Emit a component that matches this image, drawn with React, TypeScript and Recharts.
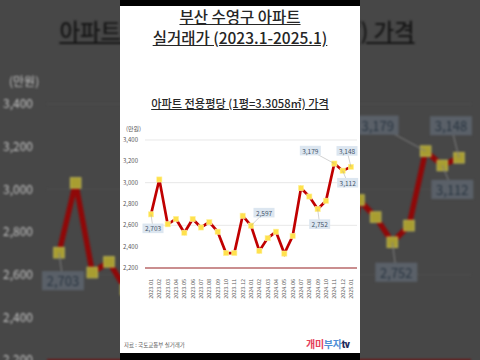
import React from "react";
import { LineChart, Line, XAxis, YAxis, CartesianGrid, LabelList } from "recharts";

const months = [
  "2023.01", "2023.02", "2023.03", "2023.04", "2023.05", "2023.06", "2023.07",
  "2023.08", "2023.09", "2023.10", "2023.11", "2023.12", "2024.01", "2024.02",
  "2024.03", "2024.04", "2024.05", "2024.06", "2024.07", "2024.08", "2024.09",
  "2024.10", "2024.11", "2024.12", "2025.01",
];
const prices = [
  2703, 3030, 2610, 2660, 2530, 2660, 2580, 2630, 2540, 2340, 2340, 2690, 2597,
  2360, 2480, 2540, 2335, 2500, 2950, 2870, 2752, 2830, 3179, 3112, 3148,
];
const yTicks = [2200, 2400, 2600, 2800, 3000, 3200, 3400];

const data = months.map((m, i) => ({ month: m, value: prices[i] }));

// which points get a callout, and where the box sits relative to the point
const callouts: Record<number, [number, number]> = {
  0: [2, 14],
  12: [13, -13],
  20: [2, 15],
  22: [-24, -13],
  23: [5, 12],
  24: [-4, -16],
};

const FONT = '"Noto Sans CJK KR", "Noto Sans", sans-serif';

const light = {
  bg: "#ffffff",
  title: "#262626",
  axis: "#595959",
  grid: "#d9d9d9",
  axisLine: "#a0282b",
  line: "#c00000",
  dot: "#ffe14d",
  dotEdge: "#fff3a0",
  box: "#dce6f0",
  boxText: "#44546a",
  leader: "#a6a6a6",
  foot: "#595959",
  logo: ["#e5405a", "#4f8fd6", "#1f2d5c"],
};
const dark = {
  bg: "transparent",
  title: "#161616",
  axis: "#c2c2c2",
  grid: "#4e4e4e",
  axisLine: "#6c1414",
  line: "#900808",
  dot: "#a89d30",
  dotEdge: "#b5ad50",
  box: "#5a6068",
  boxText: "#283440",
  leader: "#808080",
  foot: "#888888",
  logo: ["#7a2a33", "#34506e", "#1a1f2c"],
};

function Card({ theme }: { theme: typeof light }) {
  const t = theme;

  const renderCallout = (props: any) => {
    const { x, y, value, index } = props;
    const off = callouts[index];
    if (!off) return null;
    const bx = x + off[0];
    const by = y + off[1];
    return (
      <g key={`c-${index}`}>
        <line x1={x} y1={y} x2={bx} y2={by} stroke={t.leader} strokeWidth={0.5} />
        <rect x={bx - 10.5} y={by - 4.8} width={21} height={9.6} fill={t.box} />
        <text
          x={bx}
          y={by}
          textAnchor="middle"
          dominantBaseline="central"
          fontSize={6.5}
          fill={t.boxText}
          fontFamily={FONT}
        >
          {Number(value).toLocaleString("en-US")}
        </text>
      </g>
    );
  };

  const SquareDot = (props: any) => {
    const { cx, cy, index } = props;
    return (
      <rect
        key={`d-${index}`}
        x={cx - 2.6}
        y={cy - 2.6}
        width={5.2}
        height={5.2}
        fill={t.dot}
        stroke={t.dotEdge}
        strokeWidth={0.6}
      />
    );
  };

  const MonthTick = (props: any) => {
    const { x, y, payload } = props;
    return (
      <g transform={`translate(${x},${y + 3})`}>
        <text
          transform="rotate(-90)"
          textAnchor="end"
          dominantBaseline="central"
          fontSize={5.5}
          fill={t.axis}
          fontFamily={FONT}
        >
          {payload.value}
        </text>
      </g>
    );
  };

  return (
    <div
      style={{
        position: "absolute",
        left: 0,
        top: 0,
        width: 240,
        height: 347,
        background: t.bg,
        fontFamily: FONT,
      }}
    >
      <div
        style={{
          position: "absolute",
          top: 0,
          left: 0,
          width: 240,
          textAlign: "center",
          fontSize: 15.5,
          lineHeight: "21px",
          fontWeight: 500,
          color: t.title,
          textDecoration: "underline",
        }}
      >
        부산 수영구 아파트
      </div>
      <div
        style={{
          position: "absolute",
          top: 21,
          left: 0,
          width: 240,
          textAlign: "center",
          fontSize: 15.5,
          lineHeight: "21px",
          fontWeight: 500,
          color: t.title,
          textDecoration: "underline",
        }}
      >
        실거래가 (2023.1-2025.1)
      </div>
      <div
        style={{
          position: "absolute",
          top: 90,
          left: 0,
          width: 240,
          textAlign: "center",
          fontSize: 11.2,
          lineHeight: "14px",
          fontWeight: 500,
          color: t.title,
          textDecoration: "underline",
        }}
      >
        아파트 전용평당 (1평=3.3058㎡) 가격
      </div>
      <div
        style={{
          position: "absolute",
          top: 119,
          left: 6,
          fontSize: 6,
          lineHeight: "8px",
          color: t.axis,
        }}
      >
        (만원)
      </div>
      <div style={{ position: "absolute", left: 0, top: 114 }}>
        <LineChart
          width={240}
          height={190}
          data={data}
          margin={{ top: 20, right: 3, bottom: 10, left: 8 }}
        >
          <CartesianGrid vertical={false} stroke={t.grid} strokeWidth={0.6} />
          <XAxis
            dataKey="month"
            interval={0}
            height={32}
            tickLine={false}
            axisLine={{ stroke: t.axisLine, strokeWidth: 1 }}
            tick={<MonthTick />}
            padding={{ left: 6, right: 6 }}
          />
          <YAxis
            width={17}
            domain={[2200, 3400]}
            ticks={yTicks}
            axisLine={false}
            tickLine={false}
            tickSize={0}
            tickMargin={7}
            tick={{ fontSize: 6, fill: t.axis, fontFamily: FONT }}
            tickFormatter={(v: number) => v.toLocaleString("en-US")}
          />
          <Line
            type="linear"
            dataKey="value"
            stroke={t.line}
            strokeWidth={2.7}
            dot={<SquareDot />}
            activeDot={false}
            isAnimationActive={false}
          >
            <LabelList dataKey="value" content={renderCallout} />
          </Line>
        </LineChart>
      </div>
      <div
        style={{
          position: "absolute",
          left: 4,
          top: 336,
          fontSize: 5.5,
          lineHeight: "7px",
          color: t.foot,
        }}
      >
        자료 : 국토교통부 실거래가
      </div>
      <div
        style={{
          position: "absolute",
          left: 186,
          top: 331,
          fontSize: 10,
          lineHeight: "14px",
          fontWeight: 700,
          letterSpacing: -0.3,
        }}
      >
        <span style={{ color: t.logo[0] }}>개미</span>
        <span style={{ color: t.logo[1] }}>부자</span>
        <span style={{ color: t.logo[2], fontFamily: "Roboto, sans-serif", fontWeight: 900 }}>tv</span>
      </div>
    </div>
  );
}

export default function App() {
  return (
    <div
      style={{
        position: "fixed",
        left: 0,
        top: 0,
        width: 480,
        height: 360,
        overflow: "hidden",
        background: "#474747",
      }}
    >
      {/* blurred, enlarged copy behind the card */}
      <div
        style={{
          position: "absolute",
          left: -3,
          top: -164,
          width: 240,
          height: 347,
          transform: "scale(2)",
          transformOrigin: "0 0",
          filter: "blur(0.6px)",
        }}
      >
        <Card theme={dark} />
      </div>
      <div style={{ position: "absolute", left: 120, top: 0, width: 240, height: 360, background: "#000" }} />
      <div style={{ position: "absolute", left: 120, top: 6, width: 240, height: 347 }}>
        <Card theme={light} />
      </div>
    </div>
  );
}
